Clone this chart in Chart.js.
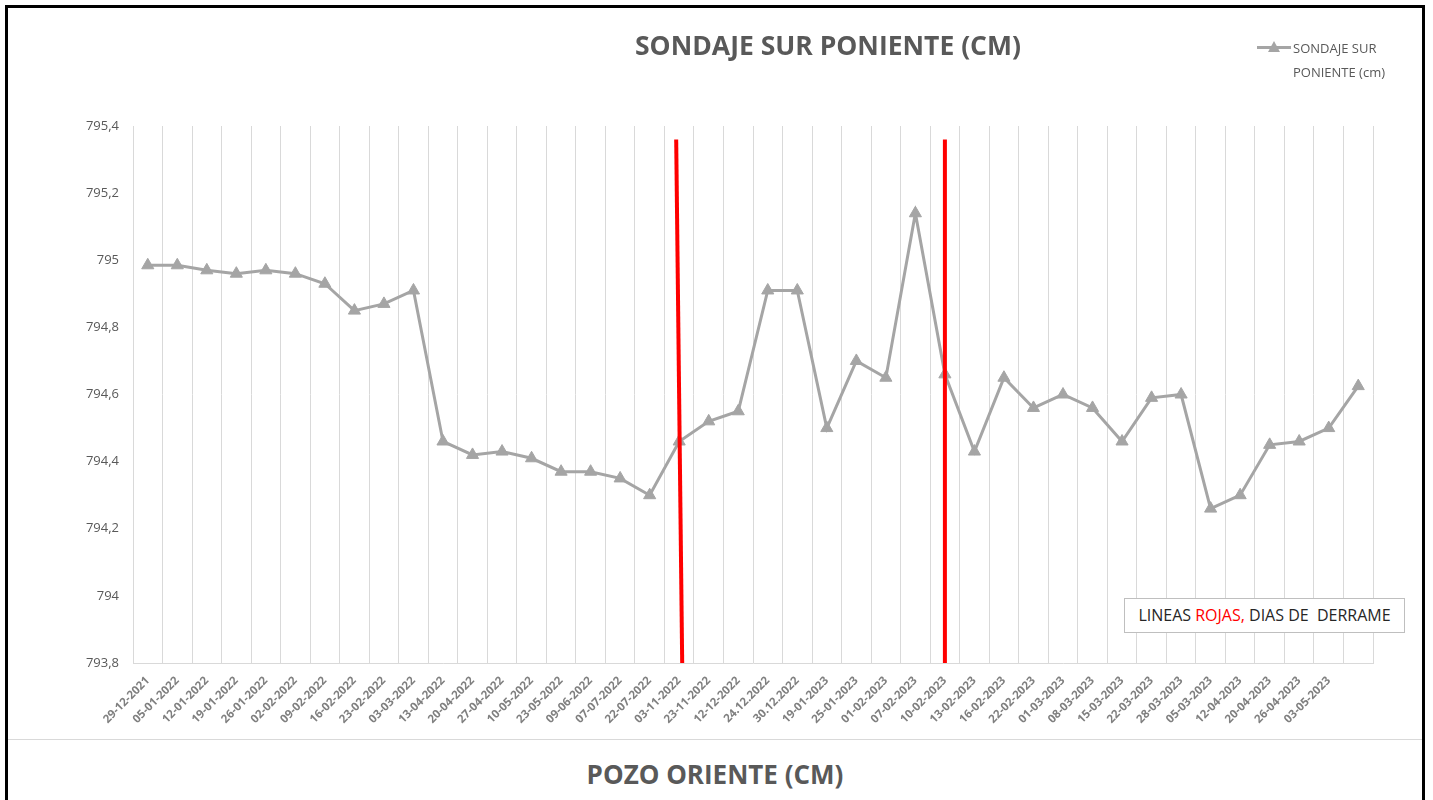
<!DOCTYPE html>
<html>
<head>
<meta charset="utf-8">
<script src="https://cdn.jsdelivr.net/npm/chart.js@4"></script>
<style>
  body { margin: 0; width: 1433px; height: 800px; overflow: hidden; background: #fff; font-family: "Open Sans", sans-serif; }
  #frame { position: absolute; left: 5px; top: 5px; width: 1420px; height: 900px; border: 3px solid #000; box-sizing: border-box; }
  #chart { position: absolute; left: 8px; top: 8px; }
  #title { position: absolute; left: 528px; width: 600px; top: 27px; text-align: center; font-size: 26.5px; font-weight: bold; color: #595959; white-space: nowrap; }
  #legend { position: absolute; left: 1257px; top: 36px; color: #595959; font-size: 13px; line-height: 24px; }
  #legend .line { position: absolute; left: 0; top: 10px; width: 34px; height: 3px; background: #a5a5a5; }
  #legend .tri { position: absolute; left: 11px; top: 5px; width: 0; height: 0; border-left: 6px solid transparent; border-right: 6px solid transparent; border-bottom: 11px solid #a5a5a5; }
  #legend .txt { position: absolute; left: 36px; top: 0; white-space: nowrap; }
  #note { position: absolute; left: 1124px; top: 598px; width: 281px; height: 35px; border: 1px solid #bfbfbf; box-sizing: border-box; background: #fff; font-size: 16px; line-height: 33px; text-align: center; color: #262626; white-space: nowrap; }
  #note span { color: #ff0000; }
  #sep { position: absolute; left: 8px; top: 739px; width: 1414px; height: 1px; background: #d9d9d9; }
  #bottomTitle { position: absolute; left: 8px; width: 1414px; top: 756px; text-align: center; font-size: 26px; font-weight: bold; color: #595959; }
</style>
</head>
<body>
<div id="frame"></div>
<canvas id="chart" width="1414" height="731"></canvas>
<div id="title">SONDAJE SUR PONIENTE (CM)</div>
<div id="legend"><div class="line"></div><div class="tri"></div><div class="txt">SONDAJE SUR<br>PONIENTE (cm)</div></div>
<div id="note">LINEAS <span>ROJAS,</span> DIAS DE &nbsp;DERRAME</div>
<div id="sep"></div>
<div id="bottomTitle">POZO ORIENTE (CM)</div>
<script>
const fechas = [
  "29-12-2021", "05-01-2022", "12-01-2022", "19-01-2022", "26-01-2022", "02-02-2022",
  "09-02-2022", "16-02-2022", "23-02-2022", "03-03-2022", "13-04-2022", "20-04-2022",
  "27-04-2022", "10-05-2022", "23-05-2022", "09-06-2022", "07-07-2022", "22-07-2022",
  "03-11-2022", "23-11-2022", "12-12-2022", "24.12.2022", "30.12.2022", "19-01-2023",
  "25-01-2023", "01-02-2023", "07-02-2023", "10-02-2023", "13-02-2023", "16-02-2023",
  "22-02-2023", "01-03-2023", "08-03-2023", "15-03-2023", "22-03-2023", "28-03-2023",
  "05-03-2023", "12-04-2023", "20-04-2023", "26-04-2023", "03-05-2023", ""
];

const sondajeSurPoniente = [
  794.985, 794.985, 794.97, 794.96, 794.97, 794.96, 794.93, 794.85, 794.87, 794.91,
  794.46, 794.42, 794.43, 794.41, 794.37, 794.37, 794.35, 794.30, 794.46, 794.52,
  794.55, 794.91, 794.91, 794.50, 794.70, 794.65, 795.14, 794.66, 794.43, 794.65,
  794.56, 794.60, 794.56, 794.46, 794.59, 794.60, 794.26, 794.30, 794.45, 794.46,
  794.50, 794.625
];

// dias de derrame (indice de la fecha)
const diasDerrame = [18, 27];

const yMin = 793.8;
const yMax = 795.4;
const yStep = 0.2;

const lineasRojas = {
  id: "lineasRojas",
  afterDatasetsDraw(chart) {
    const { ctx, scales: { x, y } } = chart;
    ctx.save();
    ctx.strokeStyle = "#ff0000";
    ctx.lineWidth = 4;
    diasDerrame.forEach((idx, i) => {
      const px = x.getPixelForValue(idx);
      const skew = i === 0 ? 3 : 0;
      ctx.beginPath();
      ctx.moveTo(px - skew, y.getPixelForValue(795.36));
      ctx.lineTo(px + skew, y.getPixelForValue(yMin));
      ctx.stroke();
    });
    ctx.restore();
  },
};

new Chart(document.getElementById("chart"), {
  type: "line",
  data: {
    labels: fechas,
    datasets: [
      {
        label: "SONDAJE SUR PONIENTE (cm)",
        data: sondajeSurPoniente,
        borderColor: "#a5a5a5",
        backgroundColor: "#a5a5a5",
        borderWidth: 3,
        pointStyle: "triangle",
        pointRadius: 7,
        pointBackgroundColor: "#a5a5a5",
        pointBorderColor: "#a5a5a5",
        pointBorderWidth: 1,
        tension: 0,
      },
    ],
  },
  options: {
    responsive: false,
    animation: false,
    layout: { padding: { left: 0, right: 49, top: 118, bottom: 0 } },
    plugins: {
      legend: { display: false },
      tooltip: { enabled: false },
      title: { display: false },
    },
    scales: {
      x: {
        offset: true,
        grid: { display: true, offset: true, color: "#d9d9d9", drawTicks: false },
        border: { display: true, color: "#d9d9d9" },
        ticks: {
          autoSkip: false,
          maxRotation: 45,
          minRotation: 45,
          padding: 11,
          color: "#7f7f7f",
          font: { family: "Open Sans", size: 11.5, weight: "bold" },
        },
        afterFit(scale) { scale.height = 76; },
      },
      y: {
        min: yMin,
        max: yMax,
        grid: { display: false, drawTicks: false },
        border: { display: true, color: "#d9d9d9" },
        ticks: {
          stepSize: yStep,
          padding: 14,
          color: "#595959",
          font: { family: "Open Sans", size: 13 },
          callback: (v) => {
            const r = Math.round(v * 10) / 10;
            return String(r).replace(".", ",");
          },
        },
        afterFit(scale) { scale.width = 125; },
      },
    },
  },
  plugins: [lineasRojas],
});
</script>
</body>
</html>
